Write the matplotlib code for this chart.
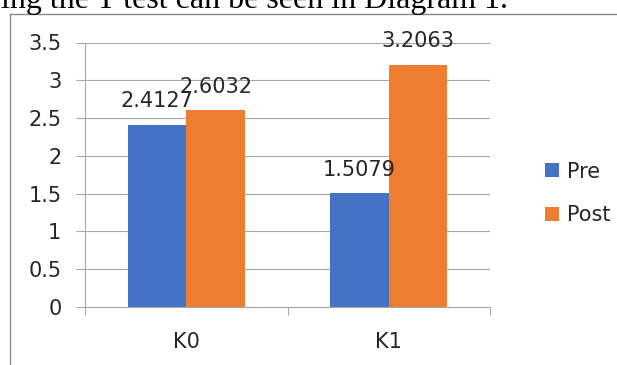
import numpy as np
import matplotlib.pyplot as plt
from matplotlib.lines import Line2D

# data
groups = ["K0", "K1"]
pre = [2.4127, 1.5079]
post = [2.6032, 3.2063]
series_names = ["Pre", "Post"]
y_ticks = [0, 0.5, 1, 1.5, 2, 2.5, 3, 3.5]
y_tick_labels = ["0", "0.5", "1", "1.5", "2", "2.5", "3", "3.5"]

BLUE = "#4472C4"
ORANGE = "#ED7D31"
TEXT = "#262626"
GRID = "#a6a6a6"
FS = 15

W, H = 617, 365
fig = plt.figure(figsize=(W / 100, H / 100), dpi=100)

# piece of the document text cut off above the chart
fig.text(1 / W, 1 - 8 / H, "ing the T test can be seen in Diagram 1.",
         family="Liberation Serif", fontsize=23, color="black", va="baseline", ha="left")

# chart frame (only top and left edge are in the crop)
frame_col = "#8c8c8c"
fig.add_artist(Line2D([10 / W, 1], [1 - 14 / H, 1 - 14 / H], transform=fig.transFigure,
                      color=frame_col, lw=1.0))
fig.add_artist(Line2D([10 / W, 10 / W], [1 - 14 / H, 0], transform=fig.transFigure,
                      color=frame_col, lw=1.0))

ax = fig.add_axes([85 / W, 1 - 307 / H, 405 / W, 264.5 / H])
x = np.arange(len(groups))
bw = 0.289
b1 = ax.bar(x - bw / 2, pre, bw, color=BLUE, label=series_names[0])
b2 = ax.bar(x + bw / 2, post, bw, color=ORANGE, label=series_names[1])

for bars, vals in ((b1, pre), (b2, post)):
    for rect, v in zip(bars, vals):
        ax.annotate(f"{v:.4f}", xy=(rect.get_x() + rect.get_width() / 2, v),
                    xytext=(0, 12.5), textcoords="offset points",
                    ha="center", va="baseline", fontsize=FS, color=TEXT)

ax.set_xlim(-0.5, 1.5)
ax.set_ylim(0, 3.5)
ax.set_yticks(y_ticks)
ax.set_yticklabels(y_tick_labels)
ax.tick_params(axis="y", length=6.5, width=0.8, color=GRID, pad=10.5,
               labelsize=FS, labelcolor=TEXT)
ax.set_xticks([-0.5, 0.5, 1.5])
ax.set_xticklabels([])
ax.set_xticks(x, minor=True)
ax.set_xticklabels(groups, minor=True)
ax.tick_params(axis="x", which="major", length=5.8, width=0.8, color=GRID)
ax.tick_params(axis="x", which="minor", length=0, pad=18, labelsize=FS, labelcolor=TEXT)
ax.yaxis.grid(True, color=GRID, lw=0.8)
ax.set_axisbelow(True)
for s in ("top", "right"):
    ax.spines[s].set_visible(False)
for s in ("left", "bottom"):
    ax.spines[s].set_color(GRID)
    ax.spines[s].set_linewidth(0.8)

fig.legend(loc="center left", bbox_to_anchor=(535 / W, 1 - 193.5 / H), frameon=False,
           fontsize=FS, handlelength=0.65, handleheight=0.65, handletextpad=0.4,
           labelspacing=1.15, borderpad=0, labelcolor=TEXT)

fig.savefig("out.png", dpi=100)
